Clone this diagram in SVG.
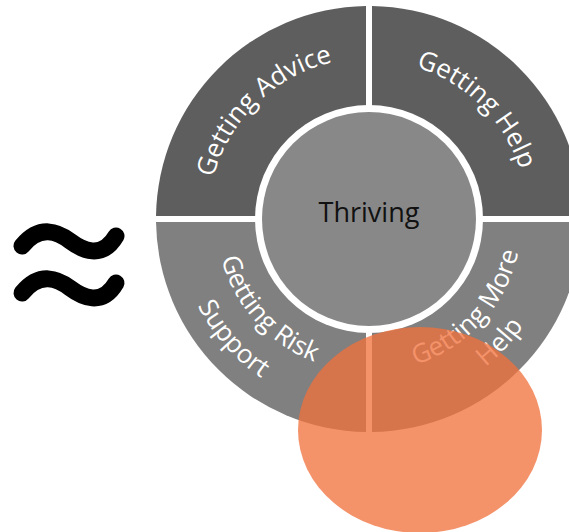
<svg xmlns="http://www.w3.org/2000/svg" width="569" height="532" viewBox="0 0 569 532">
<style>
.dark{fill:#5e5e5e}
.light{fill:#808080}
.lbl{fill:#ffffff;font-family:"Open Sans","Noto Sans",sans-serif;font-size:26px}
.ctr{fill:#111111;font-family:"Open Sans","Noto Sans",sans-serif;font-size:27px}
.tilde{fill:none;stroke:#000;stroke-width:17;stroke-linecap:round}
</style>
<defs>
<path id="pTL" d="M 208 219 A 161 161 0 0 1 369 58"/>
<path id="pTR" d="M 369 60 A 159 159 0 0 1 528 219"/>
<path id="pBL1" d="M 216 219 A 153 153 0 0 0 369 372"/>
<path id="pBL2" d="M 177 219 A 192 192 0 0 0 369 411"/>
<path id="pBR1" d="M 369 372 A 153 153 0 0 0 522 219"/>
<path id="pBR2" d="M 369 407 A 188 188 0 0 0 557 219"/>
</defs>
<rect width="569" height="532" fill="#ffffff"/>
<g id="approx">
<path class="tilde" d="M 22 246 C 40 224, 58 232, 70 241 S 102 260, 116 236"/>
<path class="tilde" d="M 22 293 C 40 271, 58 279, 70 288 S 102 307, 116 283"/>
</g>
<g id="getting-advice">
<path class="dark" d="M 366 216 L 156.02 216 A 213 213 0 0 1 366 6.02 Z"/>
<text class="lbl"><textPath href="#pTL" startOffset="51%" text-anchor="middle">Getting Advice</textPath></text>
</g>
<g id="getting-help">
<path class="dark" d="M 372 216 L 372 6.02 A 213 213 0 0 1 581.98 216 Z"/>
<text class="lbl"><textPath href="#pTR" startOffset="49.5%" text-anchor="middle">Getting Help</textPath></text>
</g>
<g id="getting-risk-support">
<path class="light" d="M 366 222 L 366 431.98 A 213 213 0 0 1 156.02 222 Z"/>
<text class="lbl"><textPath href="#pBL1" startOffset="46.7%" text-anchor="middle">Getting Risk</textPath></text>
<text class="lbl"><textPath href="#pBL2" startOffset="46%" text-anchor="middle">Support</textPath></text>
</g>
<g id="getting-more-help">
<path class="light" d="M 372 222 L 581.98 222 A 213 213 0 0 1 372 431.98 Z"/>
<text class="lbl"><textPath href="#pBR1" startOffset="53%" text-anchor="middle">Getting More</textPath></text>
<text class="lbl"><textPath href="#pBR2" startOffset="52%" text-anchor="middle">Help</textPath></text>
</g>
<g id="thriving">
<circle cx="369" cy="219" r="114" fill="#ffffff"/>
<circle cx="369" cy="219" r="107" fill="#888888"/>
<text class="ctr" x="369" y="222" text-anchor="middle">Thriving</text>
</g>
<g id="highlight">
<ellipse cx="420" cy="430" rx="122" ry="103" fill="#f0703b" fill-opacity="0.76"/>
</g>
<g id="connectors"/>
</svg>
